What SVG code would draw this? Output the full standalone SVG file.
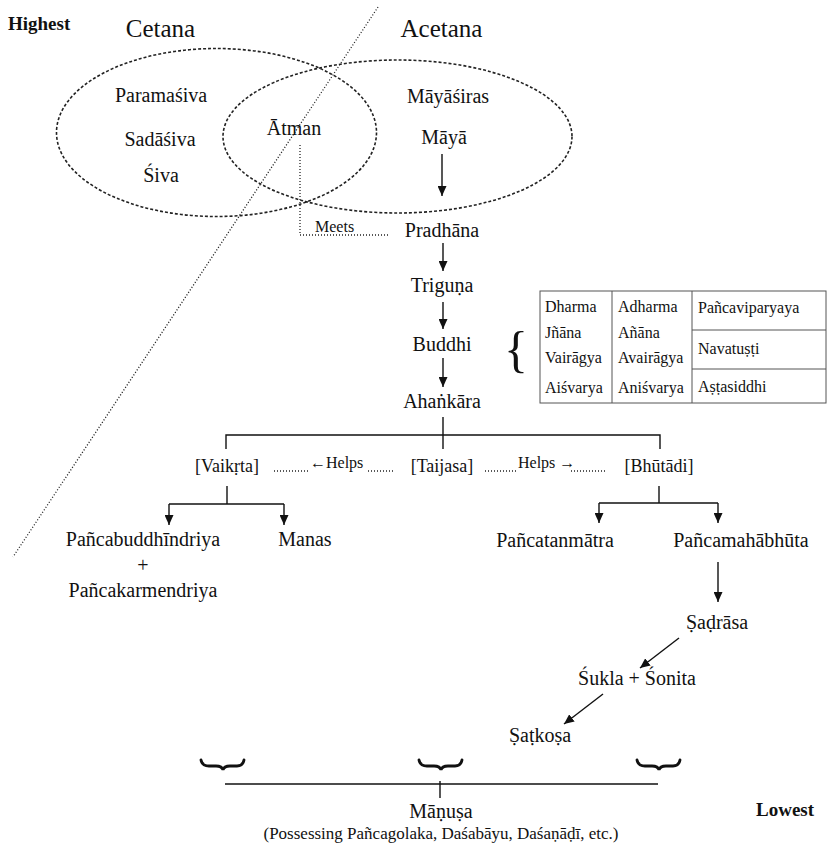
<svg xmlns="http://www.w3.org/2000/svg" width="827" height="852" viewBox="0 0 827 852">
<style>
  text { font-family: "Liberation Serif", "DejaVu Serif", serif; fill: #111; }
  .n { font-size: 20px; text-anchor: middle; }
  .h { font-size: 25px; text-anchor: middle; }
  .b { font-size: 18px; text-anchor: middle; }
  .s { font-size: 16px; }
  .t { font-size: 16px; }
  .bold { font-size: 19px; font-weight: bold; }
  .line { stroke: #111; stroke-width: 1.4; fill: none; }
  .arrow { stroke: #111; stroke-width: 1.4; fill: none; marker-end: url(#ah); }
  .dot { stroke: #222; stroke-width: 1.3; fill: none; stroke-dasharray: 1 2; }
  .dash { stroke: #222; stroke-width: 1.6; fill: none; stroke-dasharray: 3 2; }
  .brace { stroke: #111; stroke-width: 2.8; fill: none; stroke-linecap: round; }
  .tbl { stroke: #555; stroke-width: 1; fill: none; }
</style>
<defs>
  <marker id="ah" markerUnits="userSpaceOnUse" markerWidth="11" markerHeight="9" refX="10" refY="4.5" orient="auto">
    <path d="M0,0 L10,4.5 L0,9 z" fill="#111"/>
  </marker>
</defs>
<rect width="827" height="852" fill="#fff"/>

<g id="regions">
  <ellipse cx="216.5" cy="132.5" rx="160" ry="84" class="dash"/>
  <ellipse cx="397.5" cy="136.5" rx="174.5" ry="76.5" class="dash"/>
  <line x1="378" y1="7" x2="13" y2="557" class="dot"/>
</g>

<g id="labels">
  <text x="8" y="30" class="bold">Highest</text>
  <text x="160.5" y="37" class="h">Cetana</text>
  <text x="441.5" y="37" class="h">Acetana</text>
  <text x="756" y="816" class="bold">Lowest</text>
</g>

<g id="connectors">
  <line x1="442" y1="154" x2="442" y2="196" class="arrow"/>
  <polyline points="300,145 300,235 388,235" class="dot"/>
  <line x1="443" y1="243" x2="443" y2="271" class="arrow"/>
  <line x1="443" y1="302" x2="443" y2="329" class="arrow"/>
  <line x1="443" y1="358" x2="443" y2="387" class="arrow"/>
  <line x1="443" y1="417" x2="443" y2="449" class="line"/>
  <polyline points="226,449 226,435 660,435 660,449" class="line"/>
  <line x1="274" y1="471" x2="309" y2="471" class="dot"/>
  <line x1="368" y1="471" x2="395" y2="471" class="dot"/>
  <line x1="485" y1="471" x2="517" y2="471" class="dot"/>
  <line x1="571" y1="471" x2="605" y2="471" class="dot"/>
  <line x1="227" y1="486" x2="227" y2="504" class="line"/>
  <line x1="169" y1="504" x2="284" y2="504" class="line"/>
  <line x1="169" y1="504" x2="169" y2="525" class="arrow"/>
  <line x1="284" y1="504" x2="284" y2="525" class="arrow"/>
  <line x1="659" y1="486" x2="659" y2="503" class="line"/>
  <line x1="599" y1="503" x2="718" y2="503" class="line"/>
  <line x1="599" y1="503" x2="599" y2="523" class="arrow"/>
  <line x1="718" y1="503" x2="718" y2="523" class="arrow"/>
  <line x1="718" y1="562" x2="718" y2="602" class="arrow"/>
  <line x1="679" y1="638" x2="640" y2="668" class="arrow"/>
  <line x1="603" y1="694" x2="564" y2="724" class="arrow"/>
  <line x1="225" y1="784" x2="658" y2="784" class="line"/>
  <line x1="440" y1="781" x2="440" y2="798" class="line"/>
</g>

<g id="braces">
  <path class="brace" d="M201,760 Q202,766 209,766 L216,766 Q222,766 223,770 Q224,766 230,766 L237,766 Q243,766 244,760"/>
  <path class="brace" d="M419,760 Q420,766 427,766 L434,766 Q440,766 441,770 Q442,766 448,766 L455,766 Q461,766 462,760"/>
  <path class="brace" d="M637,760 Q638,766 645,766 L652,766 Q658,766 659,770 Q660,766 666,766 L673,766 Q679,766 680,760"/>
  <text x="516" y="366" style="font-size:50px;text-anchor:middle">{</text>
</g>

<g id="n-paramasiva"><text x="161" y="102" class="n">Paramaśiva</text></g>
<g id="n-sadasiva"><text x="160" y="146" class="n">Sadāśiva</text></g>
<g id="n-siva"><text x="161" y="182" class="n">Śiva</text></g>
<g id="n-atman"><text x="294" y="135" class="n">Ātman</text></g>
<g id="n-mayasiras"><text x="448" y="103" class="n">Māyāśiras</text></g>
<g id="n-maya"><text x="444" y="144" class="n">Māyā</text></g>
<g id="n-meets"><text x="315" y="232" class="s">Meets</text></g>
<g id="n-pradhana"><text x="442" y="237" class="n">Pradhāna</text></g>
<g id="n-triguna"><text x="442" y="292" class="n">Triguṇa</text></g>
<g id="n-buddhi"><text x="442" y="351" class="n">Buddhi</text></g>
<g id="n-ahankara"><text x="442" y="408" class="n">Ahaṅkāra</text></g>
<g id="n-vaikrta"><text x="227" y="472" class="b">[Vaikṛta]</text></g>
<g id="n-taijasa"><text x="442" y="472" class="b">[Taijasa]</text></g>
<g id="n-bhutadi"><text x="659" y="472" class="b">[Bhūtādi]</text></g>
<g id="n-helps-l"><text x="310" y="468" class="s">←Helps</text></g>
<g id="n-helps-r"><text x="518" y="468" class="s">Helps →</text></g>
<g id="n-indriya">
  <text x="143" y="546" class="n">Pañcabuddhīndriya</text>
  <text x="143" y="572" class="n">+</text>
  <text x="143" y="597" class="n">Pañcakarmendriya</text>
</g>
<g id="n-manas"><text x="305" y="546" class="n">Manas</text></g>
<g id="n-tanmatra"><text x="555" y="547" class="n">Pañcatanmātra</text></g>
<g id="n-mahabhuta"><text x="741" y="547" class="n">Pañcamahābhūta</text></g>
<g id="n-sadrasa"><text x="717" y="629" class="n">Ṣaḍrāsa</text></g>
<g id="n-sukla"><text x="637" y="685" class="n">Śukla + Śonita</text></g>
<g id="n-satkosa"><text x="540" y="742" class="n">Ṣaṭkoṣa</text></g>
<g id="n-manusa">
  <text x="441" y="818" class="n">Māṇuṣa</text>
  <text x="441" y="839" style="font-size:17px;text-anchor:middle">(Possessing Pañcagolaka, Daśabāyu, Daśaṇāḍī, etc.)</text>
</g>

<g id="table">
  <rect x="540" y="291" width="286" height="112" class="tbl"/>
  <line x1="612" y1="291" x2="612" y2="403" class="tbl"/>
  <line x1="692" y1="291" x2="692" y2="403" class="tbl"/>
  <line x1="692" y1="330" x2="826" y2="330" class="tbl"/>
  <line x1="692" y1="369" x2="826" y2="369" class="tbl"/>
  <text x="545" y="312" class="t">Dharma</text>
  <text x="545" y="338" class="t">Jñāna</text>
  <text x="545" y="363" class="t">Vairāgya</text>
  <text x="545" y="393" class="t">Aiśvarya</text>
  <text x="618" y="312" class="t">Adharma</text>
  <text x="618" y="338" class="t">Añāna</text>
  <text x="618" y="363" class="t">Avairāgya</text>
  <text x="618" y="393" class="t">Aniśvarya</text>
  <text x="698" y="313" class="t">Pañcaviparyaya</text>
  <text x="698" y="354" class="t">Navatuṣṭi</text>
  <text x="698" y="392" class="t">Aṣṭasiddhi</text>
</g>
</svg>
